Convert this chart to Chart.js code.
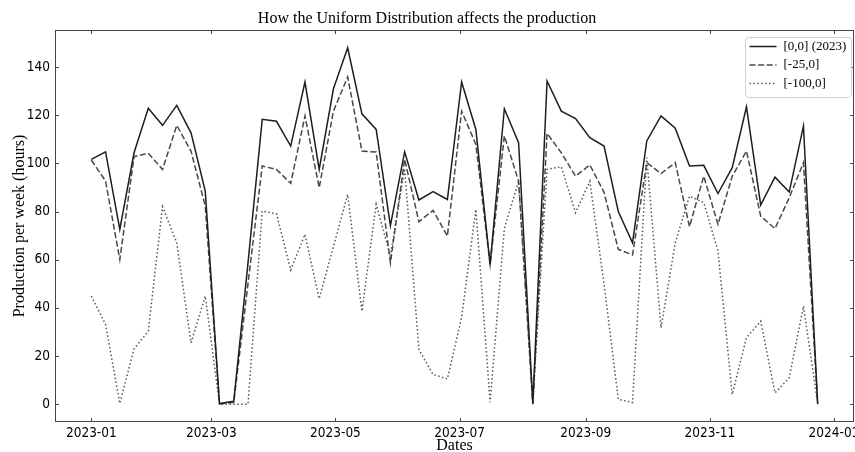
<!DOCTYPE html>
<html>
<head>
<meta charset="utf-8">
<script src="https://cdn.jsdelivr.net/npm/chart.js@4"></script>
<style>
  body { margin: 0; background: #fff; }
</style>
</head>
<body>
<canvas id="chart" width="855" height="452"></canvas>
<script>
// weekly dates (Sundays of 2023)
const weeks = [
  '2023-01-01','2023-01-08','2023-01-15','2023-01-22','2023-01-29',
  '2023-02-05','2023-02-12','2023-02-19','2023-02-26',
  '2023-03-05','2023-03-12','2023-03-19','2023-03-26',
  '2023-04-02','2023-04-09','2023-04-16','2023-04-23','2023-04-30',
  '2023-05-07','2023-05-14','2023-05-21','2023-05-28',
  '2023-06-04','2023-06-11','2023-06-18','2023-06-25',
  '2023-07-02','2023-07-09','2023-07-16','2023-07-23','2023-07-30',
  '2023-08-06','2023-08-13','2023-08-20','2023-08-27',
  '2023-09-03','2023-09-10','2023-09-17','2023-09-24',
  '2023-10-01','2023-10-08','2023-10-15','2023-10-22','2023-10-29',
  '2023-11-05','2023-11-12','2023-11-19','2023-11-26',
  '2023-12-03','2023-12-10','2023-12-17','2023-12-24'
];

const base = [ // [0,0] (2023)
  101.7, 104.8, 72.6, 104.4, 122.9, 115.8, 124.1, 112.7, 88.5, 0.3,
  1.2, 58.6, 118.3, 117.5, 107.2, 133.8, 97.5, 131.0, 148.0, 120.6,
  114.1, 74.2, 104.8, 84.8, 88.3, 85.0, 133.8, 114.1, 58.0, 122.7,
  108.6, 0.3, 134.2, 121.7, 118.6, 110.7, 107.2, 80.0, 67.0, 109.3,
  119.7, 114.6, 98.9, 99.2, 87.5, 98.2, 123.5, 82.7, 94.3, 88.1,
  115.5, 0.3
];
const minus25 = [ // [-25,0]
  101.4, 92.7, 60.1, 102.8, 104.2, 97.5, 115.8, 105.1, 82.3, 0.0,
  0.8, 50.0, 98.9, 97.5, 91.7, 119.7, 89.9, 121.7, 135.9, 105.1,
  104.7, 58.7, 101.7, 75.8, 80.5, 69.8, 121.7, 107.9, 58.0, 111.4,
  92.7, 0.0, 112.5, 104.4, 94.7, 99.4, 88.0, 64.3, 62.0, 100.3,
  95.8, 100.3, 73.7, 94.7, 74.7, 94.7, 105.1, 78.1, 72.9, 85.7,
  100.3, 0.0
];
const minus100 = [ // [-100,0]
  44.9, 33.1, 0.3, 23.0, 30.3, 82.0, 67.0, 25.5, 44.9, 0.0,
  0.0, 0.0, 80.2, 79.1, 55.7, 70.5, 43.8, 65.5, 87.1, 38.6,
  83.0, 61.5, 97.8, 22.7, 12.3, 10.5, 36.0, 80.9, 0.8, 73.0,
  92.6, 0.8, 97.5, 98.6, 79.5, 92.6, 50.0, 2.0, 0.7, 102.4,
  31.7, 67.0, 86.4, 83.7, 63.6, 4.0, 27.6, 34.5, 4.7, 10.9,
  40.7, 0.3
];

const seriesLabels = ['[0,0] (2023)', '[-25,0]', '[-100,0]'];
const xTickDates = ['2023-01-01','2023-03-01','2023-05-01','2023-07-01','2023-09-01','2023-11-01','2024-01-01'];
const xTickLabels = ['2023-01','2023-03','2023-05','2023-07','2023-09','2023-11','2024-01'];
const yTicks = [0, 20, 40, 60, 80, 100, 120, 140];

// days since 2023-01-01
const dayOf = s => (Date.parse(s) - Date.parse('2023-01-01')) / 86400000;
const toPoints = arr => arr.map((v, i) => ({ x: dayOf(weeks[i]), y: v }));

const tickFont = { family: "'Liberation Sans Narrow', 'DejaVu Sans Condensed', 'DejaVu Sans'", size: 13.5 };
const serif = "'Liberation Serif', 'DejaVu Serif', serif";

// frame, inward ticks on all four sides, and the legend inside the plot
const framePlugin = {
  id: 'frame',
  afterDraw(chart) {
    const { ctx, chartArea: a, scales: { x, y } } = chart;
    ctx.save();
    ctx.strokeStyle = '#444';
    ctx.lineWidth = 1;
    ctx.strokeRect(a.left + 0.5, a.top + 0.5, a.right - a.left - 1, a.bottom - a.top - 1);
    ctx.beginPath();
    x.ticks.forEach(t => {
      const px = Math.round(x.getPixelForValue(t.value)) + 0.5;
      ctx.moveTo(px, a.bottom); ctx.lineTo(px, a.bottom - 4);
      ctx.moveTo(px, a.top); ctx.lineTo(px, a.top + 4);
    });
    y.ticks.forEach(t => {
      const py = Math.round(y.getPixelForValue(t.value)) + 0.5;
      ctx.moveTo(a.left, py); ctx.lineTo(a.left + 4, py);
      ctx.moveTo(a.right, py); ctx.lineTo(a.right - 4, py);
    });
    ctx.stroke();

    // legend
    const bw = 106, bh = 60;
    const bx = a.right - bw - 2.5, by = a.top + 7.5;
    ctx.beginPath();
    ctx.roundRect(bx, by, bw, bh, 3);
    ctx.fillStyle = 'rgba(255,255,255,0.85)';
    ctx.fill();
    ctx.strokeStyle = '#d0d0d0';
    ctx.stroke();
    ctx.font = '13px ' + serif;
    ctx.textBaseline = 'middle';
    chart.data.datasets.forEach((ds, i) => {
      const ly = by + 9 + i * 18.5;
      ctx.beginPath();
      ctx.strokeStyle = ds.borderColor;
      ctx.lineWidth = ds.borderWidth;
      ctx.setLineDash(ds.borderDash || []);
      ctx.moveTo(bx + 4, ly); ctx.lineTo(bx + 31, ly);
      ctx.stroke();
      ctx.setLineDash([]);
      ctx.fillStyle = '#000';
      ctx.fillText(ds.label, bx + 38, ly);
    });
    ctx.restore();
  }
};

new Chart(document.getElementById('chart'), {
  type: 'line',
  data: {
    datasets: [
      { label: seriesLabels[0], data: toPoints(base), borderColor: '#1e1e1e', borderWidth: 1.5 },
      { label: seriesLabels[1], data: toPoints(minus25), borderColor: '#484848', borderWidth: 1.5, borderDash: [6, 2.6] },
      { label: seriesLabels[2], data: toPoints(minus100), borderColor: '#555', borderWidth: 1.5, borderDash: [1.5, 2.4] }
    ]
  },
  options: {
    responsive: false,
    animation: false,
    devicePixelRatio: 1,
    layout: { padding: { left: 0, right: 1, top: 0, bottom: 0 } },
    elements: { point: { radius: 0 }, line: { tension: 0, fill: false } },
    plugins: {
      legend: { display: false },
      tooltip: { enabled: false },
      title: {
        display: true,
        text: 'How the Uniform Distribution affects the production',
        color: '#000',
        font: { family: serif, size: 16, weight: 'normal', lineHeight: 1.2 },
        padding: { top: 9, bottom: 1.8 }
      }
    },
    scales: {
      x: {
        type: 'linear',
        min: -17.85,
        max: 374.85,
        afterFit: s => { s.height = 30; s.paddingLeft = 0; s.paddingRight = 0; },
        afterBuildTicks: s => { s.ticks = xTickDates.map(d => ({ value: dayOf(d) })); },
        grid: { display: false, drawTicks: false },
        border: { display: false },
        ticks: {
          color: '#000',
          font: tickFont,
          padding: 3,
          maxRotation: 0,
          autoSkip: false,
          callback: v => xTickLabels[xTickDates.map(dayOf).indexOf(v)]
        },
        title: {
          display: true,
          text: 'Dates',
          color: '#000',
          font: { family: serif, size: 16, lineHeight: 0.8 },
          padding: 0
        }
      },
      y: {
        min: -7.4,
        max: 155.4,
        afterFit: s => { s.width = 55; },
        afterBuildTicks: s => { s.ticks = yTicks.map(v => ({ value: v })); },
        grid: { display: false, drawTicks: false },
        border: { display: false },
        ticks: { color: '#000', font: tickFont, padding: 5 },
        title: {
          display: true,
          text: 'Production per week (hours)',
          color: '#000',
          font: { family: serif, size: 16, lineHeight: 1.2 },
          padding: { top: 10, bottom: 0 }
        }
      }
    }
  },
  plugins: [framePlugin]
});
</script>
</body>
</html>
